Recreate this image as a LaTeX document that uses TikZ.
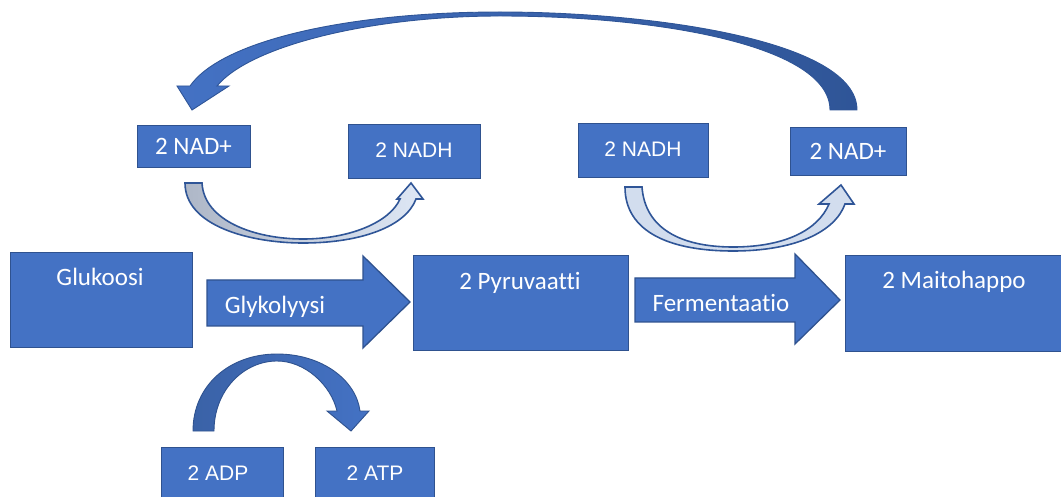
\documentclass[tikz,border=0pt]{standalone}
\usepackage{fontspec}
\setmainfont{Carlito}[Ligatures={NoCommon,NoRequired,NoContextual}]
\newfontfamily\arialfont{Liberation Sans}
\definecolor{boxblue}{HTML}{4472C4}
\definecolor{boxedge}{HTML}{2F528F}
\definecolor{darkblue}{HTML}{2F5597}
\definecolor{deepblue}{HTML}{3A62A7}
\definecolor{palegrey}{HTML}{AEB7C7}
\definecolor{paleblue}{HTML}{DEE7F5}
\definecolor{lightblue}{HTML}{D2DDEE}
\tikzset{
  box/.style={draw=boxedge, fill=boxblue, line width=1.3pt, rectangle, inner sep=0pt, anchor=north west},
  lbl/.style={text=white, inner sep=0pt, anchor=base, font=\fontsize{25}{30}\selectfont},
  albl/.style={text=white, inner sep=0pt, anchor=base, font=\arialfont\fontsize{21}{25}\selectfont},
  blockarrow/.style={draw=boxedge, fill=boxblue, line width=1.3pt, line join=miter},
  paleturn/.style={draw=darkblue, line width=1.6pt, line join=miter}
}
\begin{document}
\begin{tikzpicture}[x=1pt, y=-1pt]
\useasboundingbox (0,0) rectangle (1061,497);

% main row of boxes
\node[box, minimum width=182pt, minimum height=95pt] (glu) at (10,252) {};
\node[box, minimum width=215pt, minimum height=95pt] (pyr) at (413,255) {};
\node[box, minimum width=220pt, minimum height=96pt] (mai) at (845,255) {};
\node[lbl] (glut) at (100,286) {Glukoosi};
\node[lbl] (pyrt) at (520,290) {2 Pyruvaatti};
\node[lbl] (mait) at (954,289) {2 Maitohappo};

% block arrows between the boxes
\draw[blockarrow] (207,280) -- (363,280) -- (363,256) -- (410,302) -- (363,348) -- (363,326) -- (207,326) -- cycle;
\node[lbl] (glyt) at (275,314) {Glykolyysi};
\draw[blockarrow] (635,278) -- (795,278) -- (795,254) -- (840,300) -- (795,344) -- (795,322) -- (635,322) -- cycle;
\node[lbl] (fert) at (721,312) {Fermentaatio};

% cofactor boxes
\node[box, minimum width=113pt, minimum height=42pt] (nad1) at (137,125) {};
\node[lbl] (nad1t) at (193.5,155) {2 NAD+};
\node[box, minimum width=132pt, minimum height=54pt] (nadh1) at (348,124) {};
\node[albl] (nadh1t) at (414,158) {2 NADH};
\node[box, minimum width=130pt, minimum height=54pt] (nadh2) at (578,123) {};
\node[albl] (nadh2t) at (643,157) {2 NADH};
\node[box, minimum width=116pt, minimum height=48pt] (nad2) at (790,127) {};
\node[lbl] (nad2t) at (848,160) {2 NAD+};
\node[box, minimum width=122pt, minimum height=55pt] (adp) at (161,447) {};
\node[albl] (adpt) at (218,480) {2 ADP};
\node[box, minimum width=119pt, minimum height=55pt] (atp) at (315,447) {};
\node[albl] (atpt) at (375,480) {2 ATP};

% NAD+ -> NADH under glycolysis
\draw[paleturn, left color=palegrey, right color=paleblue]
  (185,183) .. controls (185,226) and (250,243) .. (303,243)
  .. controls (362,243) and (406,226) .. (416,199)
  -- (423,199) -- (411,183) -- (397,199) -- (400,199)
  .. controls (390,222) and (350,239) .. (303,239)
  .. controls (255,239) and (204,221) .. (202,183) -- cycle;

% NADH -> NAD+ under fermentation
\draw[paleturn, fill=lightblue]
  (625,187) .. controls (625,232) and (670,251) .. (733,251)
  .. controls (795,251) and (835,232) .. (845,204)
  -- (854,204) -- (841,185) -- (819,204) -- (829,204)
  .. controls (818,230) and (785,247) .. (733,247)
  .. controls (680,247) and (645,228) .. (642,187) -- cycle;

% ADP -> ATP
\draw[draw=boxedge, line width=0.9pt, line join=miter, left color=deepblue, right color=boxblue]
  (193,431) .. controls (193,385) and (230,354) .. (277,354)
  .. controls (322,354) and (356,380) .. (360,411)
  -- (369,411) -- (351,431) -- (327,411) -- (337,411)
  .. controls (331,385) and (305,361) .. (277,361)
  .. controls (244,361) and (214,390) .. (214,431) -- cycle;

% regenerated NAD+ returned to the start
\draw[draw=darkblue, line width=0.9pt, line join=miter, left color=boxblue, right color=darkblue]
  (857,110) .. controls (857,40) and (650,12) .. (500,12)
  .. controls (350,12) and (222,40) .. (190,86)
  -- (177,86) -- (192,110) -- (229,86) -- (217,86)
  .. controls (250,46) and (370,16) .. (500,16)
  .. controls (660,16) and (830,46) .. (830,110) -- cycle;
\end{tikzpicture}
\end{document}
